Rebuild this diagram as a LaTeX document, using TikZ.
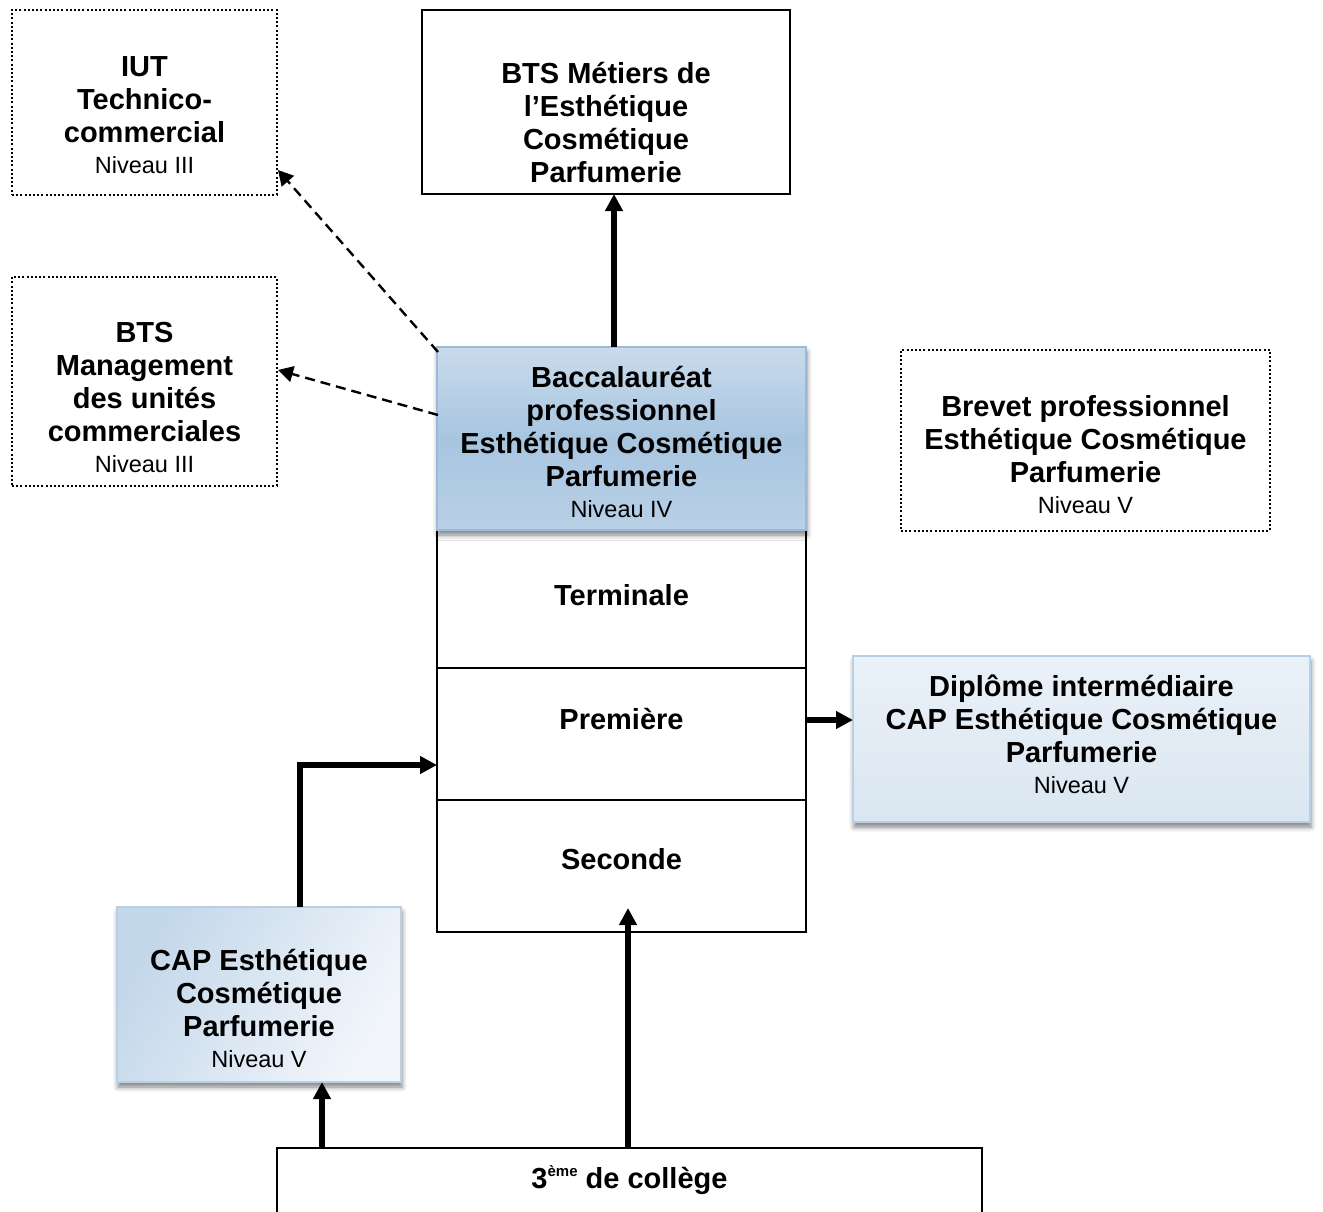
\documentclass[tikz,border=0pt]{standalone}
\usepackage{fontspec}
\setmainfont{Liberation Sans}
\usetikzlibrary{arrows.meta,calc,shadows.blur}
\definecolor{bacTop}{HTML}{C9DBEC}
\definecolor{bacMid}{HTML}{A8C5E0}
\definecolor{bacBot}{HTML}{B9D0E6}
\definecolor{bacEdge}{HTML}{9BBAD7}
\definecolor{lightEdge}{HTML}{B8CFE4}
\definecolor{capA}{HTML}{C3D7EA}
\definecolor{capB}{HTML}{F2F6FB}
\definecolor{dipA}{HTML}{EAF1F8}
\definecolor{dipB}{HTML}{DAE6F1}
\tikzset{
  plainbox/.style={draw=black, line width=1.8pt, inner sep=0pt, outer sep=0pt, fill=white},
  dotbox/.style={draw=black, line width=2pt, dash pattern=on 2pt off 2.2pt, inner sep=0pt, outer sep=0pt},
  bacbox/.style={draw=bacEdge, line width=1.8pt, inner sep=0pt, outer sep=0pt,
    top color=bacTop, bottom color=bacBot, middle color=bacMid,
    blur shadow={shadow xshift=1pt, shadow yshift=-5pt, shadow blur radius=5pt, shadow opacity=50}},
  capbox/.style={draw=lightEdge, line width=1.8pt, inner sep=0pt, outer sep=0pt,
    left color=capA, right color=capB, shading angle=60,
    blur shadow={shadow xshift=1pt, shadow yshift=-5pt, shadow blur radius=5pt, shadow opacity=50}},
  dipbox/.style={draw=lightEdge, line width=1.8pt, inner sep=0pt, outer sep=0pt,
    top color=dipA, bottom color=dipB,
    blur shadow={shadow xshift=1pt, shadow yshift=-5pt, shadow blur radius=5pt, shadow opacity=50}},
  lbl/.style={align=center, inner sep=0pt, font=\bfseries\fontsize{29}{33}\selectfont},
  thickarrow/.style={line width=5.5pt, -{Triangle[length=17pt,width=17pt]}},
  dasharrow/.style={line width=2.4pt, dash pattern=on 10pt off 6pt, -{Triangle[length=15pt,width=16pt]}},
}
\newcommand{\niv}[1]{{\mdseries\fontsize{23.5}{33}\selectfont #1}}
\begin{document}
\begin{tikzpicture}[x=1pt,y=-1pt]
\useasboundingbox (0,0) rectangle (1323,1212);
% boxes
\node[dotbox, minimum width=265pt, minimum height=185pt] (iut) at (144.5,102.5) {};
\node[plainbox, minimum width=368pt, minimum height=184pt] (bts) at (606,102) {};
\node[dotbox, minimum width=265pt, minimum height=209pt] (mgmt) at (144.5,381.5) {};
\node[dotbox, minimum width=369pt, minimum height=181pt] (brevet) at (1085.5,440.5) {};
\node[plainbox, minimum width=369pt, minimum height=138pt] (term) at (621.5,599) {};
\node[plainbox, minimum width=369pt, minimum height=132pt] (prem) at (621.5,734) {};
\node[plainbox, minimum width=369pt, minimum height=132pt] (sec) at (621.5,866) {};
\node[bacbox, minimum width=369pt, minimum height=183pt] (bac) at (621.5,438.5) {};
\node[dipbox, minimum width=457pt, minimum height=166pt] (dip) at (1081.5,739) {};
\node[capbox, minimum width=284pt, minimum height=175pt] (cap) at (259,994.5) {};
\node[plainbox, minimum width=705pt, minimum height=92pt] (col) at (629.5,1194) {};
% texts
\node[lbl, anchor=north] (iutT) at (144.5,56) {IUT\\Technico-\\commercial\\[-2pt]\niv{Niveau III}};
\node[lbl, anchor=north] (btsT) at (606,62) {BTS Métiers de\\l’Esthétique\\Cosmétique\\Parfumerie};
\node[lbl, anchor=north] (mgmtT) at (144.5,322) {BTS\\Management\\des unités\\commerciales\\[-2pt]\niv{Niveau III}};
\node[lbl, anchor=north] (bacT) at (621.5,366) {Baccalauréat\\professionnel\\Esthétique Cosmétique\\Parfumerie\\[-2pt]\niv{Niveau IV}};
\node[lbl, anchor=north] (brevetT) at (1085.5,395) {Brevet professionnel\\Esthétique Cosmétique\\Parfumerie\\[-2pt]\niv{Niveau V}};
\node[lbl, anchor=base] (termT) at (621.5,605) {Terminale};
\node[lbl, anchor=base] (premT) at (621.5,729) {Première};
\node[lbl, anchor=base] (secT) at (621.5,869) {Seconde};
\node[lbl, anchor=north] (dipT) at (1081.5,675) {Diplôme intermédiaire\\CAP Esthétique Cosmétique\\Parfumerie\\[-2pt]\niv{Niveau V}};
\node[lbl, anchor=north] (capT) at (259,949) {CAP Esthétique\\Cosmétique\\Parfumerie\\[-2pt]\niv{Niveau V}};
\node[lbl, anchor=base] (colT) at (629.5,1188) {3\raisebox{12pt}{\fontsize{15}{15}\selectfont ème} de collège};
% connectors
\coordinate (bN) at ($(bac.north)+(-7.5,0)$);
\draw[thickarrow] (bN) -- (bN |- bts.south);
\draw[dasharrow] ($(bac.north west)+(1,5)$) -- ($(iut.south east)+(1,-25)$);
\draw[dasharrow] ($(bac.west)+(1,-23.5)$) -- ($(mgmt.east)+(1,-11.5)$);
\coordinate (pe) at ($(prem.east)+(0,-14)$);
\draw[thickarrow] (pe) -- (pe -| dip.west);
\draw[thickarrow] ($(cap.north)+(41,0)$) |- ($(prem.west)+(0,31)$);
\coordinate (colL) at ($(col.north west)+(45,0)$);
\draw[thickarrow] (colL) -- (colL |- cap.south);
\coordinate (secTip) at ($(sec.south)+(6.5,-24)$);
\draw[thickarrow] (secTip |- col.north) -- (secTip);
\end{tikzpicture}
\end{document}
